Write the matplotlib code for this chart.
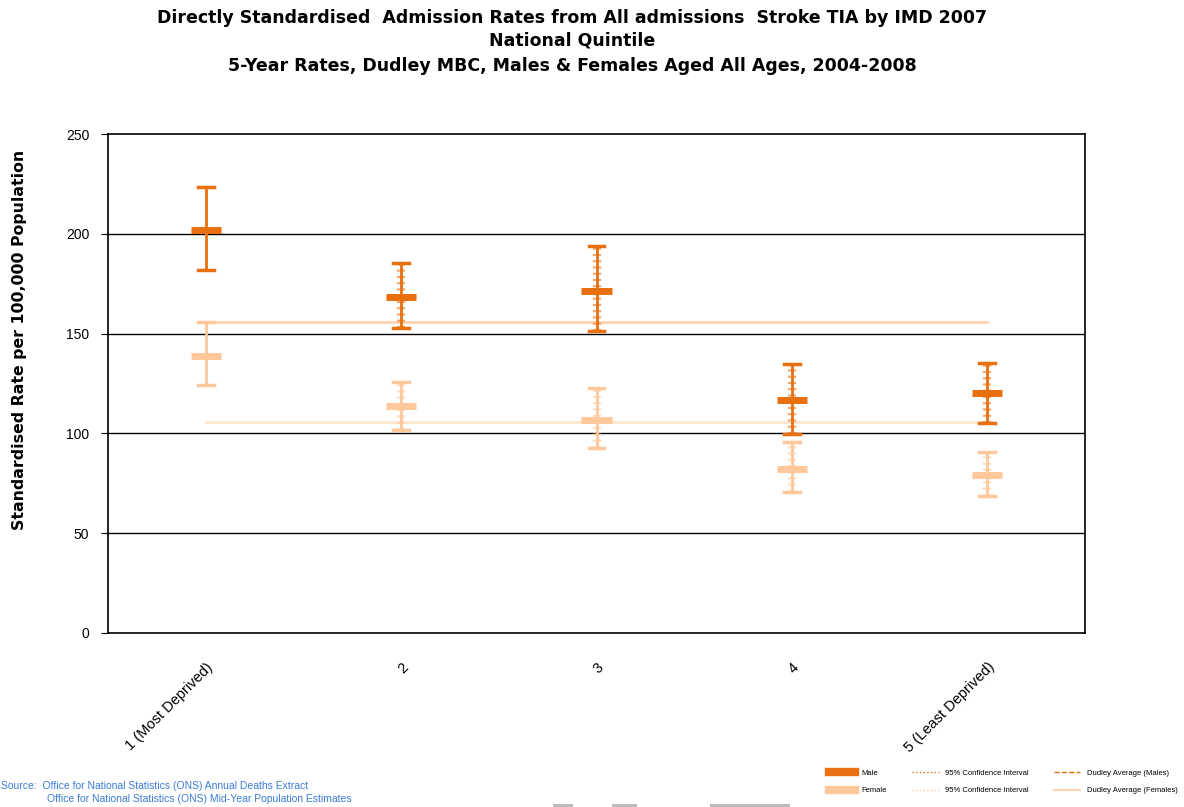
import matplotlib
matplotlib.use("Agg")
import matplotlib.pyplot as plt
from matplotlib.lines import Line2D
from matplotlib.patches import Rectangle

plt.rcParams['font.family'] = ['Liberation Sans', 'DejaVu Sans']

categories = ["1 (Most Deprived)", "2", "3", "4", "5 (Least Deprived)"]
male_rate = [202, 168.5, 171.5, 116.5, 120]
male_upper = [223.5, 185.5, 194, 135, 135.5]
male_lower = [182, 153, 151.5, 99.5, 105]
female_rate = [139, 113.5, 106.5, 82, 79]
female_upper = [156, 126, 122.5, 95.5, 90.5]
female_lower = [124, 101.5, 92.5, 70.5, 68.5]
male_avg = 156
female_avg = 105.5
yticks = [0, 50, 100, 150, 200, 250]
title_lines = ["Directly Standardised  Admission Rates from All admissions  Stroke TIA by IMD 2007",
               "National Quintile",
               "5-Year Rates, Dudley MBC, Males & Females Aged All Ages, 2004-2008"]

dark = "#E8700F"
light = "#FFC89A"
avg_m_col = "#FFD3B0"
avg_f_col = "#FFE6CE"

W, H = 1184, 807
fig = plt.figure(figsize=(W/100, H/100), dpi=100)
ax = fig.add_axes([108/W, 1-633/H, (1085-108)/W, (633-134)/H])

x = list(range(len(categories)))
ax.set_xlim(-0.5, len(categories)-0.5)
ax.set_ylim(0, 250)

for yv in yticks[1:-1]:
    ax.axhline(yv, color="black", lw=1, zorder=1)

ax.plot([x[0], x[-1]], [male_avg]*2, color=avg_m_col, lw=2, zorder=2)
ax.plot([x[0], x[-1]], [female_avg]*2, color=avg_f_col, lw=2, zorder=2)

def draw(rates, lo, hi, col, dotted):
    for i, (xi, r, l, h) in enumerate(zip(x, rates, lo, hi)):
        ax.plot([xi, xi], [l, h], color=col, lw=2, zorder=3, solid_capstyle="butt")
        if dotted[i]:
            ax.plot([xi, xi], [l, h], color=col, lw=6, ls=(0, (0.25, 0.5)), alpha=0.6, zorder=3)
        ax.plot([xi-0.04, xi+0.04], [h, h], color=col, lw=2.5, zorder=3)
        ax.plot([xi-0.04, xi+0.04], [l, l], color=col, lw=2.5, zorder=3)
        ax.plot([xi-0.077, xi+0.077], [r, r], color=col, lw=5, zorder=4, solid_capstyle="butt")

dotted = [False, True, True, True, True]
draw(female_rate, female_lower, female_upper, light, dotted)
draw(male_rate, male_lower, male_upper, dark, dotted)

ax.set_yticks(yticks)
ax.set_yticklabels([str(v) for v in yticks], fontsize=10)
ax.set_xticks(x)
ax.set_xticklabels(categories, rotation=45, ha="right", va="top", rotation_mode="anchor", fontsize=10.5)
ax.tick_params(axis="x", length=0, pad=19.5)
ax.tick_params(axis="y", length=5, direction="out", pad=8.5)
for s in ax.spines.values():
    s.set_linewidth(1.2)
    s.set_color("black")

fig.text(20/W, 1-340/H, "Standardised Rate per 100,000 Population", rotation=90,
         fontsize=11.3, fontweight="bold", ha="center", va="center", family="DejaVu Sans")

for yy, t in zip([18, 41, 66], title_lines):
    fig.text(572/W, 1-yy/H, t, ha="center", va="center", fontsize=12.5, fontweight="bold",
             family="DejaVu Sans")

fig.text(1/W, 1-786/H, "Source:  Office for National Statistics (ONS) Annual Deaths Extract", fontsize=7.5, color="#3A7DD8", va="center")
fig.text(47/W, 1-799/H, "Office for National Statistics (ONS) Mid-Year Population Estimates", fontsize=7.5, color="#3A7DD8", va="center")

handles = [Line2D([], [], color=dark, lw=6), Line2D([], [], color=light, lw=6),
           Line2D([], [], color=dark, lw=1, ls=":"), Line2D([], [], color=light, lw=1, ls=":"),
           Line2D([], [], color=dark, lw=1, ls="--"), Line2D([], [], color=avg_m_col, lw=1.5)]
labels = ["Male", "Female", "95% Confidence Interval", "95% Confidence Interval",
          "Dudley Average (Males)", "Dudley Average (Females)"]
fig.legend(handles, labels, loc="center", bbox_to_anchor=(1003/W, 1-782/H), ncol=3,
           fontsize=5.5, frameon=False, handlelength=3.5, columnspacing=3.3, labelspacing=1.3)

for x0, x1 in [(553, 573), (612, 637), (710, 790)]:
    fig.patches.append(Rectangle((x0/W, 0), (x1-x0)/W, 3/H, transform=fig.transFigure,
                                 color="#BBBBBB", lw=0))

fig.savefig("out.png", dpi=100, facecolor="white")
